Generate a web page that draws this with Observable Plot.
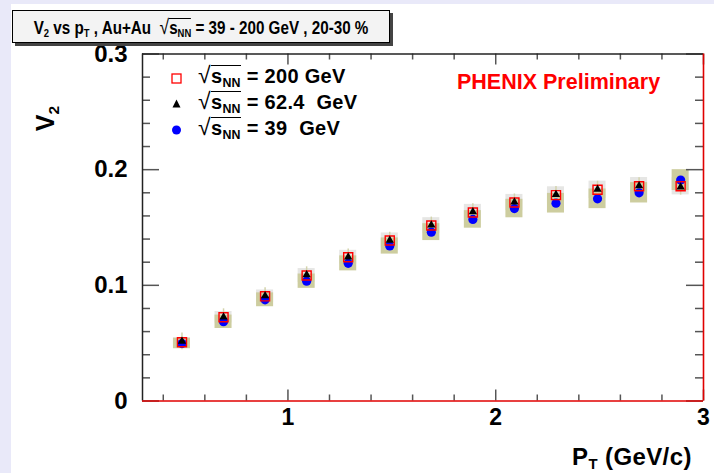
<!DOCTYPE html>
<html>
<head>
<meta charset="utf-8">
<script src="https://cdn.jsdelivr.net/npm/d3@7"></script>
<script src="https://cdn.jsdelivr.net/npm/@observablehq/plot@0.6"></script>
<style>
  html, body { margin: 0; padding: 0; background: #e9e9f9; }
  #wrap { position: relative; width: 714px; height: 473px; overflow: hidden; font-family: "Liberation Sans", Arial, Helvetica, sans-serif; font-weight: bold; }
  #white { position: absolute; left: 11px; top: 4px; right: 0; bottom: 0; background: #fff; }
  #chart { position: absolute; left: 0; top: 0; }
  .ov { position: absolute; white-space: nowrap; color: #000; }
  .rad { display: inline-block; }
  .sq { font-size: 1.15em; font-weight: normal; }
  .ol { border-top: 1.6px solid #000; line-height: 1; display: inline-block; }
  sub { font-size: 0.62em; vertical-align: -0.3em; line-height: 0; }
  #title { left: 12px; top: 10px; width: 376px; height: 31px; border: 1px solid #000; background: #f3f3f3; box-shadow: 3px 3px 0 #444; font-size: 18px; line-height: 31px; display: flex; justify-content: center; overflow: visible; }
  #title > span.in { display: inline-block; flex: none; transform: scaleX(0.845); transform-origin: center; }
  .leg { font-size: 20px; line-height: 26px; left: 168px; letter-spacing: 0.3px; }
  .leg svg { vertical-align: middle; margin-right: 14px; }
  #phenix { left: 457px; top: 71px; color: #ff0000; font-size: 21.5px; line-height: 22px; }
  #ylab { left: 33px; top: 104px; font-size: 25px; transform: rotate(-90deg); transform-origin: center; }
  #xlab { left: 572px; top: 443px; font-size: 24px; letter-spacing: 0.4px; }
</style>
</head>
<body>
<div id="wrap">
  <div id="white"></div>
  <div id="chart"></div>
  <div class="ov" id="title"><span class="in">V<sub>2</sub> vs p<sub>T</sub> , Au+Au &nbsp;<span class="rad"><span class="sq">√</span><span class="ol">s<sub>NN</sub></span></span> = 39 - 200 GeV , 20-30 %</span></div>
  <div class="ov leg" style="top:62px"><svg width="16" height="16"><rect x="4" y="4" width="9" height="9" fill="none" stroke="#ff0000" stroke-width="1.3"/></svg><span class="rad"><span class="sq">√</span><span class="ol">s<sub>NN</sub></span></span> = 200 GeV</div>
  <div class="ov leg" style="top:88px"><svg width="16" height="16"><polygon points="8.5,3.5 12.5,11.5 4.5,11.5" fill="#000"/></svg><span class="rad"><span class="sq">√</span><span class="ol">s<sub>NN</sub></span></span> = 62.4 &nbsp;GeV</div>
  <div class="ov leg" style="top:114px"><svg width="16" height="16"><circle cx="8.5" cy="8" r="4.5" fill="#0000ff"/></svg><span class="rad"><span class="sq">√</span><span class="ol">s<sub>NN</sub></span></span> = 39 &nbsp;GeV</div>
  <div class="ov" id="phenix">PHENIX Preliminary</div>
  <div class="ov" id="ylab">V<sub>2</sub></div>
  <div class="ov" id="xlab">P<sub>T</sub> (GeV/c)</div>
</div>
<script>
// pT bin centres (GeV/c)
const pt = [0.49, 0.69, 0.89, 1.09, 1.29, 1.49, 1.69, 1.89, 2.09, 2.29, 2.49, 2.69, 2.89];
// v2 values per beam energy
const v2_200 = [0.0508, 0.0724, 0.0905, 0.1085, 0.1243, 0.1388, 0.1517, 0.1630, 0.1716, 0.1780, 0.1826, 0.1857, 0.1857];
const v2_624 = [0.0515, 0.0725, 0.0910, 0.1090, 0.1245, 0.1390, 0.1520, 0.1635, 0.1720, 0.1785, 0.1830, 0.1860, 0.1850];
const v2_39  = [0.0497, 0.0685, 0.0875, 0.1036, 0.1190, 0.1340, 0.1460, 0.1570, 0.1664, 0.1710, 0.1748, 0.1800, 0.1910];
// systematic errors (half heights)
const sys_39  = [0.0045, 0.0058, 0.0060, 0.0062, 0.0065, 0.0070, 0.0073, 0.0076, 0.0080, 0.0085, 0.0085, 0.0088, 0.0090];
const sys_200 = [0.0040, 0.0050, 0.0055, 0.0060, 0.0060, 0.0065, 0.0068, 0.0070, 0.0070, 0.0072, 0.0075, 0.0075, 0.0075];
// statistical errors
const stat_624 = [0.0072, 0.0072, 0.0070, 0.0070, 0.0070, 0.0070, 0.0070, 0.0070, 0.0070, 0.0070, 0.0070, 0.0070, 0.0070];
// axis ticks
const xMajor = [1, 2, 3];
const xMinor = [0.4, 0.6, 0.8, 1.2, 1.4, 1.6, 1.8, 2.2, 2.4, 2.6, 2.8];
const yMajor = [0, 0.1, 0.2, 0.3];
const yMinor = [0.02, 0.04, 0.06, 0.08, 0.12, 0.14, 0.16, 0.18, 0.22, 0.24, 0.26, 0.28];

const boxHalfWidth = 0.041;
const s200 = pt.map((x, i) => ({x, y: v2_200[i], e: sys_200[i]}));
const s624 = pt.map((x, i) => ({x, y: v2_624[i], e: stat_624[i]}));
const s39  = pt.map((x, i) => ({x, y: v2_39[i], e: sys_39[i]}));

const W = 714, H = 473, mL = 142, mR = 11, mT = 53.5, mB = 72.5;
const fw = W - mL - mR, fh = H - mT - mB;
const tickCol = "#555";

const chart = Plot.plot({
  width: W, height: H,
  marginLeft: mL, marginRight: mR, marginTop: mT, marginBottom: mB,
  style: {background: "transparent", fontFamily: "'Liberation Sans', Arial, sans-serif", overflow: "visible"},
  x: {domain: [0.3, 3]},
  y: {domain: [0, 0.3]},
  marks: [
    Plot.rect(s200, {x1: d => d.x - boxHalfWidth, x2: d => d.x + boxHalfWidth, y1: d => d.y - d.e, y2: d => d.y + d.e, fill: "#e6e6e4"}),
    Plot.rect(s39, {x1: d => d.x - boxHalfWidth, x2: d => d.x + boxHalfWidth, y1: d => d.y - d.e, y2: d => d.y + d.e, fill: "#cdcd9f"}),
    Plot.ruleX(s624, {x: "x", y1: d => d.y - d.e, y2: d => d.y + d.e, stroke: "#d3d3ad", strokeWidth: 1.5}),
    Plot.dot(s39, {x: "x", y: "y", r: 4.6, fill: "#0000ff", symbol: "circle"}),
    Plot.dot(s200, {x: "x", y: "y", r: 5.1, symbol: "square", stroke: "#ff0000", fill: "none", strokeWidth: 1.4}),
    Plot.dot(s624, {x: "x", y: "y", r: 3.1, symbol: "triangle", fill: "#000", stroke: "none"}),
    // y ticks left and right (inward)
    Plot.tickY(yMajor, {y: d => d, insetRight: fw - 17, stroke: tickCol, strokeWidth: 1.5}),
    Plot.tickY(yMinor, {y: d => d, insetRight: fw - 8, stroke: tickCol, strokeWidth: 1.5}),
    Plot.tickY(yMajor, {y: d => d, insetLeft: fw - 17, stroke: tickCol, strokeWidth: 1.5}),
    Plot.tickY(yMinor, {y: d => d, insetLeft: fw - 8, stroke: tickCol, strokeWidth: 1.5}),
    // x ticks bottom and top (inward)
    Plot.tickX(xMajor, {x: d => d, insetTop: fh - 11, stroke: tickCol, strokeWidth: 1.5}),
    Plot.tickX(xMinor, {x: d => d, insetTop: fh - 6, stroke: tickCol, strokeWidth: 1.5}),
    Plot.tickX(xMajor, {x: d => d, insetBottom: fh - 11, stroke: tickCol, strokeWidth: 1.5}),
    Plot.tickX(xMinor, {x: d => d, insetBottom: fh - 6, stroke: tickCol, strokeWidth: 1.5}),
    // frame
    Plot.ruleX([0.3], {stroke: "#222", strokeWidth: 1.5}),
    Plot.ruleY([0.3], {stroke: "#222", strokeWidth: 1.5}),
    Plot.ruleY([0], {stroke: "#e00000", strokeWidth: 1.6}),
    Plot.ruleX([3], {stroke: "#e00000", strokeWidth: 1.6}),
    // axes labels
    Plot.axisY(yMajor, {tickSize: 0, tickPadding: 15, fontSize: 24, fontWeight: "bold", label: null, tickFormat: d => d === 0 ? "0" : d3.format(".1f")(d), fill: "#000"}),
    Plot.axisX(xMajor, {tickSize: 0, tickPadding: 8, fontSize: 23, fontWeight: "bold", label: null, tickFormat: d => String(d), fill: "#000"})
  ]
});
document.getElementById("chart").appendChild(chart);
</script>
</body>
</html>
